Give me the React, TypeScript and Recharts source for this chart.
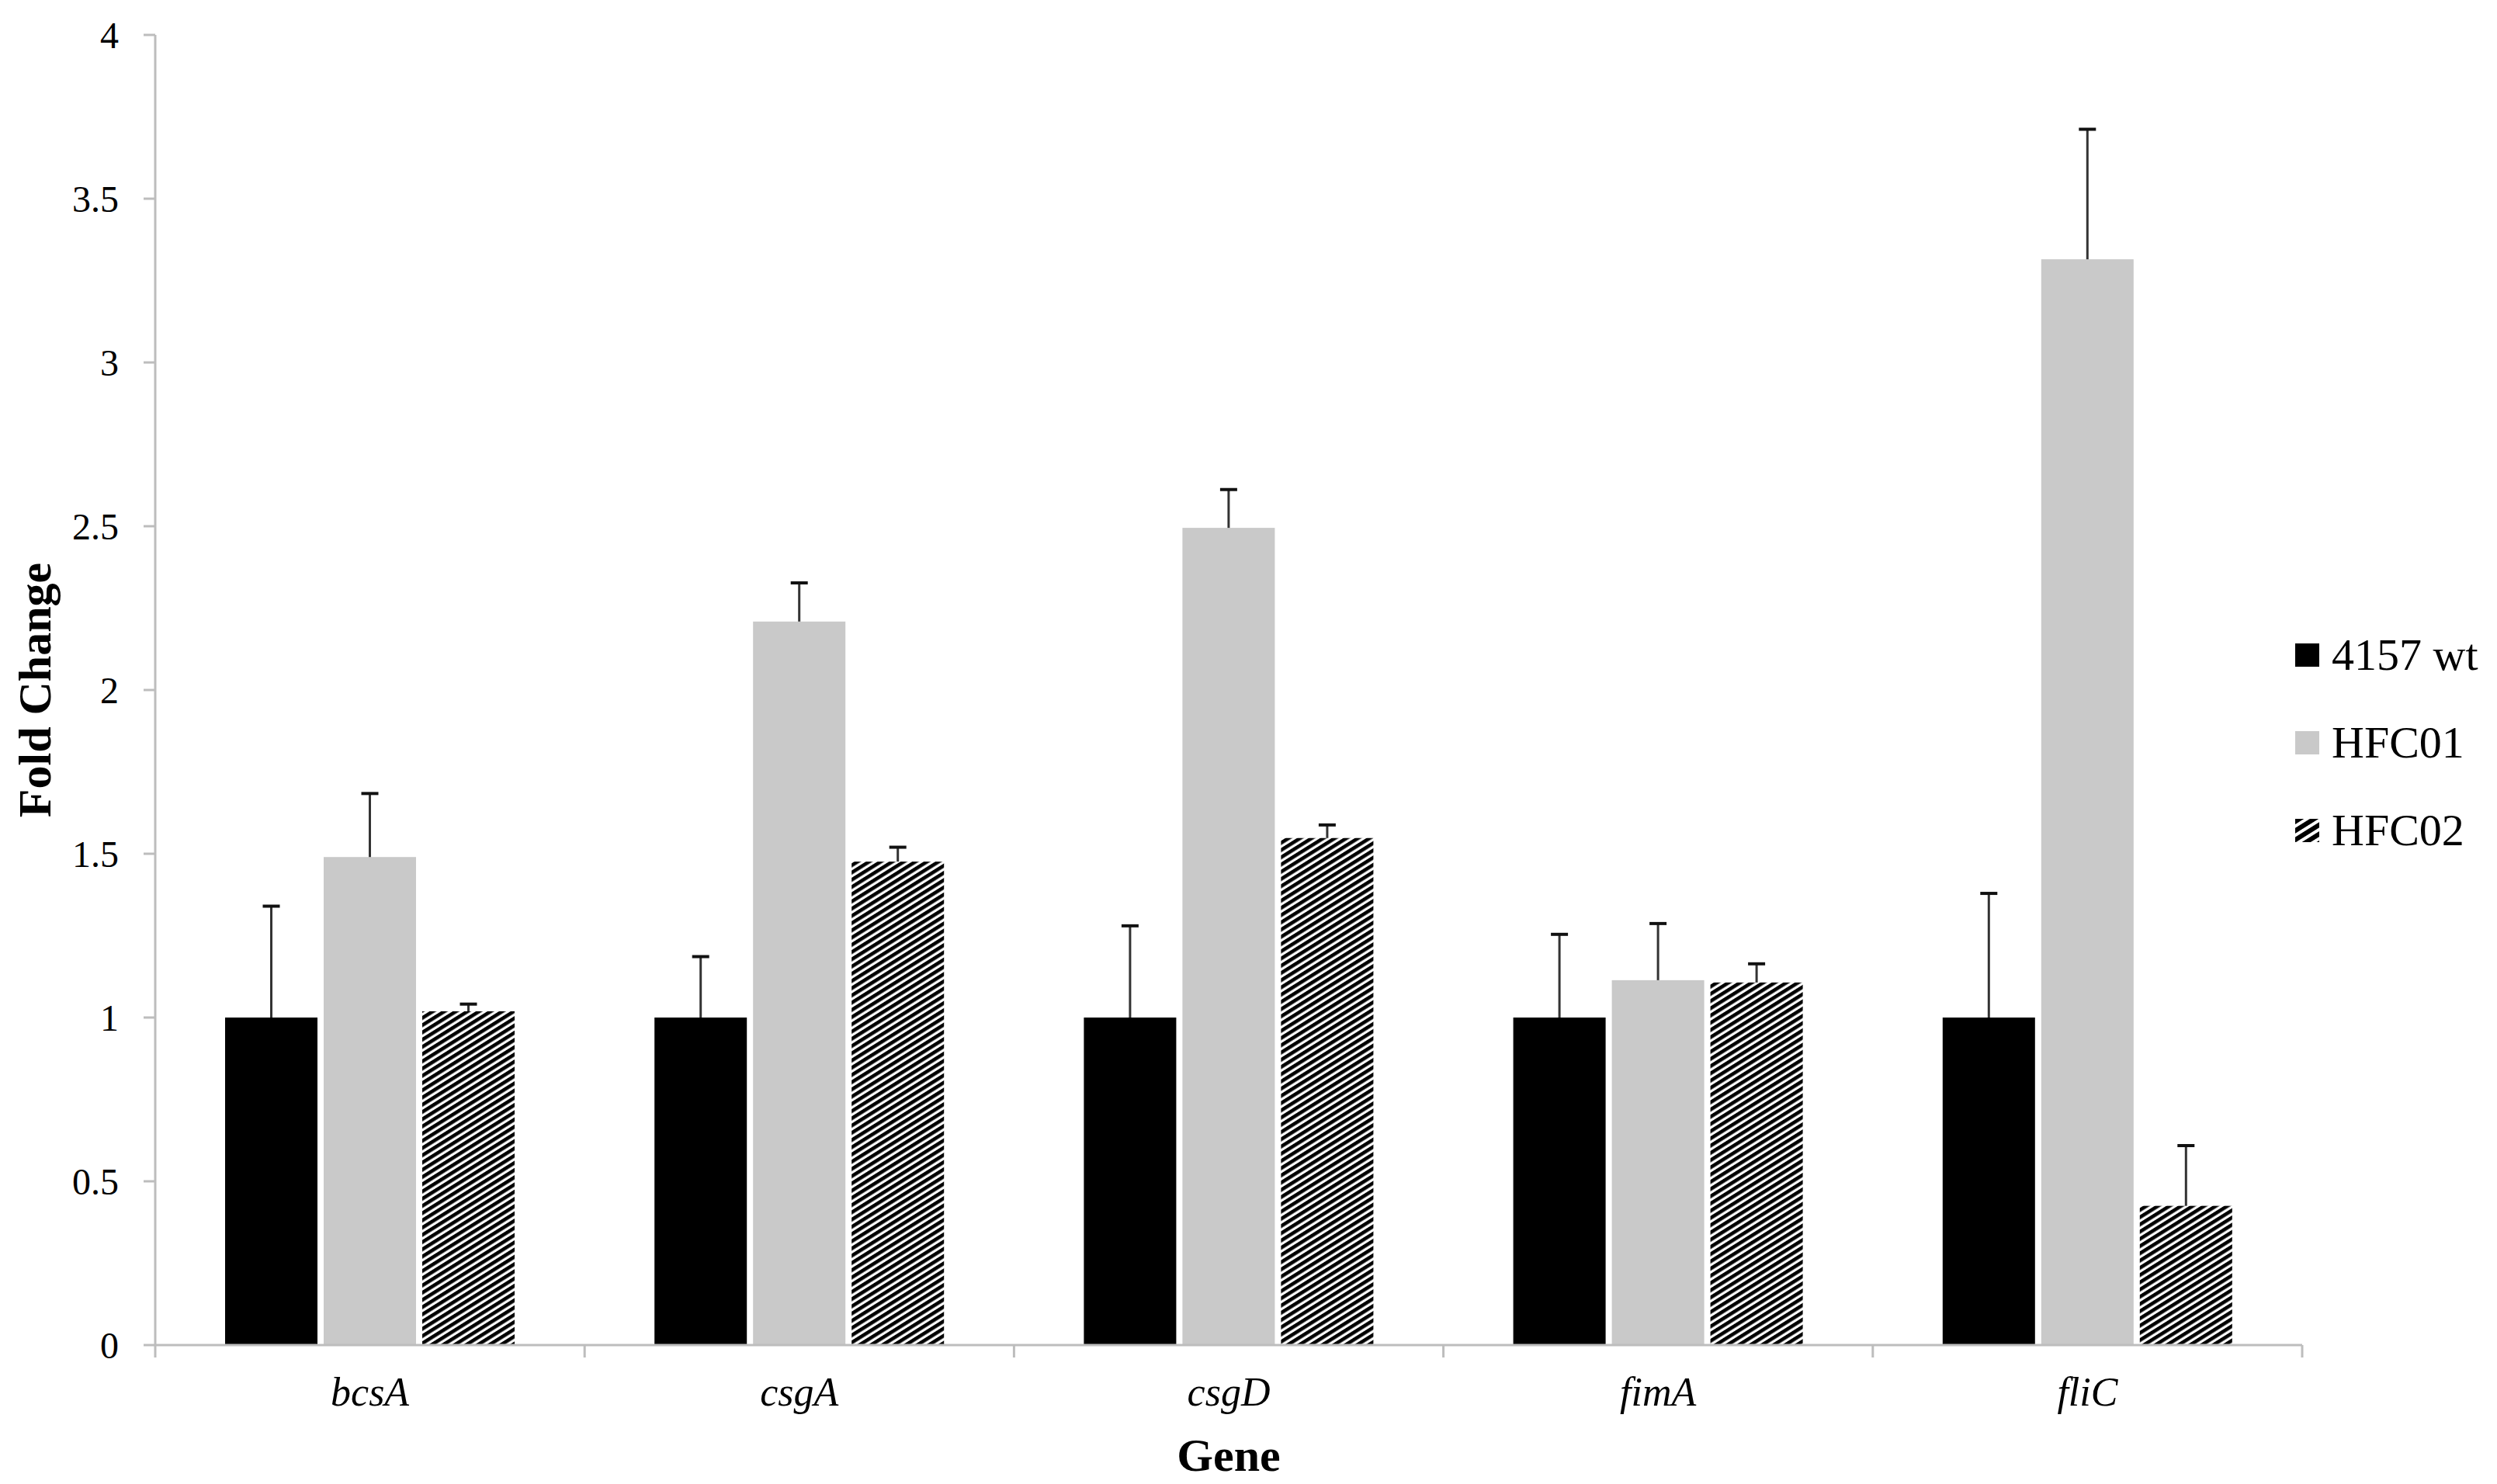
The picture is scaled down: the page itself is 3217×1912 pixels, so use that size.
import { BarChart, Bar, XAxis, YAxis, Legend, Label } from 'recharts'

const genes = ['bcsA', 'csgA', 'csgD', 'fimA', 'fliC']
const seriesNames = ['4157 wt', 'HFC01', 'HFC02']
const wt = [1, 1, 1, 1, 1]
const wtErr = [0.34, 0.186, 0.28, 0.254, 0.379]
const hfc01 = [1.49, 2.209, 2.495, 1.114, 3.315]
const hfc01Err = [0.194, 0.118, 0.117, 0.173, 0.397]
const hfc02 = [1.019, 1.476, 1.548, 1.107, 0.425]
const hfc02Err = [0.022, 0.044, 0.04, 0.057, 0.184]
const yTicks = [0, 0.5, 1, 1.5, 2, 2.5, 3, 3.5, 4]

const data = genes.map((gene, i) => ({
  gene,
  wt: wt[i],
  wtErr: wtErr[i],
  hfc01: hfc01[i],
  hfc01Err: hfc01Err[i],
  hfc02: hfc02[i],
  hfc02Err: hfc02Err[i],
}))

const W = 3217
const H = 1912
const MARGIN = { top: 45, right: 251, bottom: 0, left: 0 }
const Y_AXIS_W = 200
const HALF_BAND = (W - MARGIN.right - Y_AXIS_W) / genes.length / 2
const X_TICK_LEN = 16
const FONT = '"Liberation Serif", "Times New Roman", serif'
const AXIS_GREY = '#bdbdbd'
const FILLS = ['#000000', '#c9c9c9', 'url(#hatch)']

function barShape(fill: string, valueKey: string, errKey: string) {
  return (props: any) => {
    const { x, y, width, height, payload } = props
    const v = payload[valueKey]
    const pxPerUnit = height / v
    const top = y - payload[errKey] * pxPerUnit
    const cx = x + width / 2
    return (
      <g>
        <rect x={x} y={y} width={width} height={height} fill={fill} />
        <line x1={cx} x2={cx} y1={y} y2={top} stroke="#333" strokeWidth={3} />
        <line x1={cx - 11} x2={cx + 11} y1={top} y2={top} stroke="#111" strokeWidth={4} />
      </g>
    )
  }
}

function GeneTick({ x, y, payload, index }: any) {
  const axisY = y - X_TICK_LEN
  return (
    <g>
      <line x1={x - HALF_BAND} x2={x - HALF_BAND} y1={axisY} y2={y} stroke={AXIS_GREY} strokeWidth={3} />
      {index === genes.length - 1 && (
        <line x1={x + HALF_BAND} x2={x + HALF_BAND} y1={axisY} y2={y} stroke={AXIS_GREY} strokeWidth={3} />
      )}
      <text x={x} y={y + 62} textAnchor="middle" fontStyle="italic" fontSize={52} fontFamily={FONT} fill="#000">
        {payload.value}
      </text>
    </g>
  )
}

function HatchDefs({ id, size, ink }: { id: string; size: number; ink: number }) {
  return (
    <defs>
      <pattern id={id} width={size} height={size} patternUnits="userSpaceOnUse" patternTransform="rotate(58)">
        <rect x={0} y={0} width={size} height={size} fill="#fff" />
        <rect x={0} y={0} width={ink} height={size} fill="#000" />
      </pattern>
    </defs>
  )
}

function GeneLegend() {
  return (
    <div style={{ fontFamily: FONT }}>
      {seriesNames.map((name, i) => (
        <div key={name} style={{ display: 'flex', alignItems: 'center', height: 113 }}>
          <svg width={31} height={30} style={{ display: 'block' }}>
            {i === 2 && <HatchDefs id="hatchLegend" size={10} ink={6} />}
            <rect width={31} height={30} fill={i === 2 ? 'url(#hatchLegend)' : FILLS[i]} />
          </svg>
          <span style={{ marginLeft: 16, fontSize: 58, lineHeight: 1, color: '#000' }}>{name}</span>
        </div>
      ))}
    </div>
  )
}

export default function App() {
  return (
    <div style={{ position: 'absolute', left: 0, top: 0, width: W, height: H, background: '#fff', fontFamily: FONT }}>
      <BarChart width={W} height={H} data={data} margin={MARGIN} barSize={119} barGap={8}>
        <HatchDefs id="hatch" size={7.9} ink={4.6} />
        <XAxis
          dataKey="gene"
          height={179}
          stroke={AXIS_GREY}
          strokeWidth={3}
          tickLine={false}
          tickSize={X_TICK_LEN}
          tickMargin={0}
          tick={<GeneTick />}
          interval={0}
        >
          <Label
            value="Gene"
            position="insideBottom"
            offset={17}
            style={{ fontFamily: FONT, fontSize: 60, fontWeight: 'bold', fill: '#000' }}
          />
        </XAxis>
        <YAxis
          width={Y_AXIS_W}
          domain={[0, 4]}
          ticks={yTicks}
          interval={0}
          stroke={AXIS_GREY}
          strokeWidth={3}
          tickSize={15}
          tickMargin={32}
          tick={{ fontFamily: FONT, fontSize: 48, fill: '#000' }}
        >
          <Label
            value="Fold Change"
            angle={-90}
            position="insideLeft"
            offset={44}
            style={{ textAnchor: 'middle', fontFamily: FONT, fontSize: 60, fontWeight: 'bold', fill: '#000' }}
          />
        </YAxis>
        <Legend
          layout="vertical"
          align="center"
          verticalAlign="middle"
          content={<GeneLegend />}
          wrapperStyle={{ left: 2957, top: 787, width: 260 }}
        />
        <Bar dataKey="wt" name={seriesNames[0]} fill={FILLS[0]} shape={barShape(FILLS[0], 'wt', 'wtErr')} isAnimationActive={false} />
        <Bar dataKey="hfc01" name={seriesNames[1]} fill={FILLS[1]} shape={barShape(FILLS[1], 'hfc01', 'hfc01Err')} isAnimationActive={false} />
        <Bar dataKey="hfc02" name={seriesNames[2]} fill={FILLS[2]} shape={barShape(FILLS[2], 'hfc02', 'hfc02Err')} isAnimationActive={false} />
      </BarChart>
    </div>
  )
}
